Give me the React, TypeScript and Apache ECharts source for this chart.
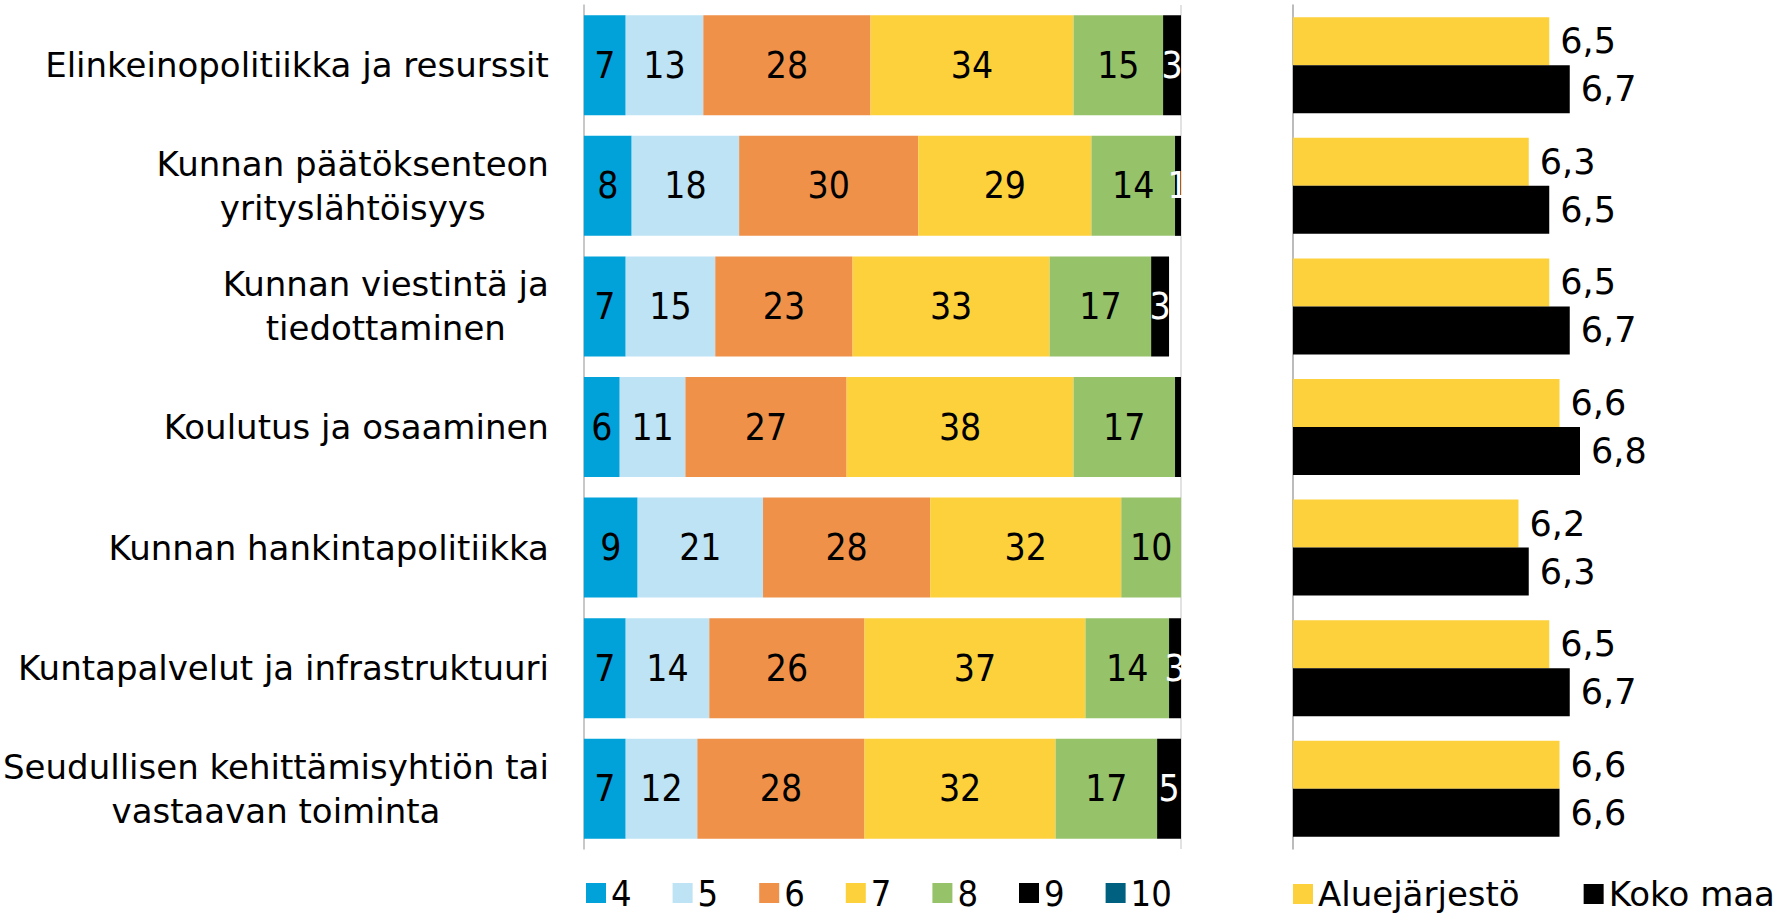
import React, { useEffect, useRef } from "react";
import * as echarts from "echarts";

const categories = [
  "Elinkeinopolitiikka ja resurssit",
  "Kunnan päätöksenteon\nyrityslähtöisyys",
  "Kunnan viestintä ja\ntiedottaminen",
  "Koulutus ja osaaminen",
  "Kunnan hankintapolitiikka",
  "Kuntapalvelut ja infrastruktuuri",
  "Seudullisen kehittämisyhtiön tai\nvastaavan toiminta",
];

const scoreNames = ["4", "5", "6", "7", "8", "9", "10"];
const score4 = [7, 8, 7, 6, 9, 7, 7];
const score5 = [13, 18, 15, 11, 21, 14, 12];
const score6 = [28, 30, 23, 27, 28, 26, 28];
const score7 = [34, 29, 33, 38, 32, 37, 32];
const score8 = [15, 14, 17, 17, 10, 14, 17];
const score9 = [3, 1, 3, 1, 0.4, 3, 5];
const score10 = [0, 0, 0, 0, 0, 0, 0];
const hiddenScore9Labels = [3, 4];

const avgNames = ["Aluejärjestö", "Koko maa"];
const aluejarjesto = [6.5, 6.3, 6.5, 6.6, 6.2, 6.5, 6.6];
const kokoMaa = [6.7, 6.5, 6.7, 6.8, 6.3, 6.7, 6.6];

const scoreColors = ["#00A2D9", "#BDE3F5", "#F0914A", "#FDD13B", "#96C26A", "#000000", "#006080"];
const avgColors = ["#FDD13B", "#000000"];

const CAT_FONT = "'DejaVu Sans', Verdana, sans-serif";
const NUM_FONT = "'Liberation Sans Narrow', 'DejaVu Sans Condensed', 'Roboto Condensed', 'Arial Narrow', sans-serif";

export default function App() {
  const ref = useRef<HTMLDivElement>(null);

  useEffect(() => {
    if (!ref.current) return;
    const chart = echarts.init(ref.current, undefined, { renderer: "svg" });

    const scoreData = [score4, score5, score6, score7, score8, score9, score10];

    const scoreSeries = scoreData.map((arr, si) => ({
      name: scoreNames[si],
      type: "bar",
      stack: "scores",
      xAxisIndex: 0,
      yAxisIndex: 0,
      barWidth: 100,
      data: arr,
      itemStyle: { color: scoreColors[si] },
      label: {
        show: true,
        position: "inside",
        color: si === 5 ? "#ffffff" : "#000000",
        fontSize: 37,
        fontFamily: NUM_FONT,
        formatter: (p: any) => {
          if (p.value < 1) return "";
          if (si === 5 && hiddenScore9Labels.includes(p.dataIndex)) return "";
          return String(p.value);
        },
      },
    }));

    const avgSeries = [aluejarjesto, kokoMaa].map((arr, ai) => ({
      name: avgNames[ai],
      type: "bar",
      xAxisIndex: 1,
      yAxisIndex: 1,
      barWidth: 48,
      barGap: "0%",
      data: arr,
      itemStyle: { color: avgColors[ai] },
      label: {
        show: true,
        position: "right",
        distance: 11,
        color: "#000000",
        fontSize: 35,
        fontFamily: CAT_FONT,
        formatter: (p: any) => Number(p.value).toFixed(1).replace(".", ","),
      },
    }));

    const option: any = {
      animation: false,
      backgroundColor: "#ffffff",
      grid: [
        { left: 582, top: 5, width: 599, height: 844 },
        { left: 1293, top: 5, width: 410, height: 844 },
      ],
      xAxis: [
        {
          gridIndex: 0,
          type: "value",
          min: 0,
          max: 100,
          interval: 100,
          axisLabel: { show: false },
          axisLine: { show: false },
          axisTick: { show: false },
          splitLine: { show: true, lineStyle: { color: "#d9d9d9", width: 1.5 } },
        },
        {
          gridIndex: 1,
          type: "value",
          min: 4,
          max: 8,
          axisLabel: { show: false },
          axisLine: { show: false },
          axisTick: { show: false },
          splitLine: { show: false },
        },
      ],
      yAxis: [
        {
          gridIndex: 0,
          type: "category",
          inverse: true,
          data: categories,
          axisTick: { show: false },
          axisLine: { show: true, lineStyle: { color: "#bfbfbf", width: 1.5 } },
          axisLabel: {
            margin: 35,
            fontSize: 34,
            fontFamily: CAT_FONT,
            color: "#000000",
            lineHeight: 44,
            formatter: (v: string) =>
              v
                .split("\n")
                .map((l) => `{c|${l}}`)
                .join("\n"),
            rich: {
              c: {
                align: "center",
                fontSize: 34,
                fontFamily: CAT_FONT,
                color: "#000000",
                lineHeight: 44,
              },
            },
          },
        },
        {
          gridIndex: 1,
          type: "category",
          inverse: true,
          data: categories,
          axisTick: { show: false },
          axisLabel: { show: false },
          axisLine: { show: true, lineStyle: { color: "#a6a6a6", width: 1.5 } },
        },
      ],
      legend: [
        {
          data: scoreNames,
          left: 586,
          top: 875,
          padding: 0,
          icon: "rect",
          itemWidth: 20,
          itemHeight: 20,
          itemGap: 41,
          selectedMode: false,
          textStyle: { fontSize: 36, fontFamily: NUM_FONT, color: "#000000" },
        },
        {
          data: avgNames,
          left: 1293,
          top: 877,
          padding: 0,
          icon: "rect",
          itemWidth: 20,
          itemHeight: 20,
          itemGap: 64,
          selectedMode: false,
          textStyle: { fontSize: 34, fontFamily: CAT_FONT, color: "#000000" },
        },
      ],
      series: [...scoreSeries, ...avgSeries],
    };

    chart.setOption(option);
    return () => chart.dispose();
  }, []);

  return (
    <div
      ref={ref}
      style={{ position: "fixed", left: 0, top: 0, width: 1789, height: 914 }}
    />
  );
}
